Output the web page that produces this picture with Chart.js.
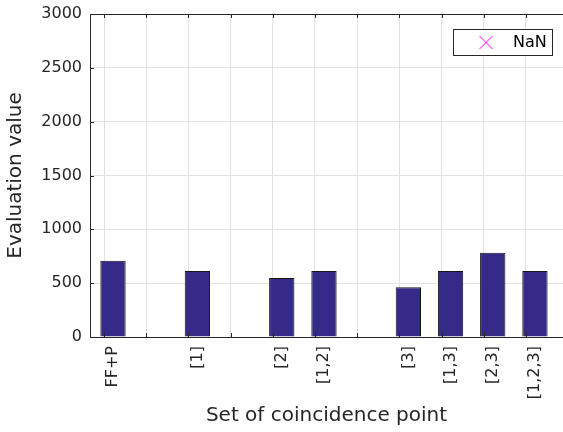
<!DOCTYPE html>
<html>
<head>
<meta charset="utf-8">
<title>Evaluation value</title>
<script src="https://cdn.jsdelivr.net/npm/chart.js@4.4.0/dist/chart.umd.min.js"></script>
<style>
  html, body { margin: 0; padding: 0; background: #fff; overflow: hidden; }
</style>
</head>
<body>
<canvas id="evalChart" width="563" height="432"></canvas>
<script>
// bars sit on slots along x, the gaps are left empty
const categories = ['FF+P', '[1]', '[2]', '[1,2]', '[3]', '[1,3]', '[2,3]', '[1,2,3]'];
const slots = [0, 2, 4, 5, 7, 8, 9, 10];
const evalValues = [708, 612, 548, 612, 461, 612, 782, 612];
const yTicks = [0, 500, 1000, 1500, 2000, 2500, 3000];
const gridSlots = [0, 1, 2, 3, 4, 5, 6, 7, 8, 9, 10];
const legendLabel = 'NaN';

const AXIS = '#262626';
const GRID = '#e2e2e2';
const X_MIN = -0.545, X_MAX = 10.665, GRID_SHIFT = -0.213;

Chart.defaults.font.family = '"DejaVu Sans", sans-serif';
Chart.defaults.color = AXIS;

// small inward tick marks like a boxed axes
const innerTicks = {
  id: 'innerTicks',
  afterDraw(chart) {
    const { ctx, chartArea: a, scales } = chart;
    ctx.save();
    ctx.strokeStyle = AXIS;
    ctx.lineWidth = 1;
    ctx.beginPath();
    scales.xTop.ticks.forEach(t => {
      const px = Math.round(scales.xTop.getPixelForValue(t.value)) + 0.5;
      ctx.moveTo(px, a.top); ctx.lineTo(px, a.top + 4);
      ctx.moveTo(px, a.bottom); ctx.lineTo(px, a.bottom - 4);
    });
    scales.y.ticks.forEach(t => {
      const py = Math.round(scales.y.getPixelForValue(t.value)) + 0.5;
      ctx.moveTo(a.left, py); ctx.lineTo(a.left + 4, py);
    });
    ctx.stroke();
    ctx.restore();
  }
};

// boxed legend in the upper right corner
const boxLegend = {
  id: 'boxLegend',
  afterDraw(chart) {
    const ds = chart.data.datasets[1];
    const { ctx, chartArea: a } = chart;
    const w = 99, h = 26;
    const x0 = Math.round(a.right - 11 - w), y0 = Math.round(a.top + 15);
    ctx.save();
    ctx.fillStyle = '#fff';
    ctx.fillRect(x0, y0, w, h);
    ctx.strokeStyle = AXIS;
    ctx.lineWidth = 1;
    ctx.strokeRect(x0 + 0.5, y0 + 0.5, w, h);
    const mx = x0 + 33, my = y0 + h / 2 + 0.5, r = 6.5;
    ctx.strokeStyle = ds.borderColor;
    ctx.beginPath();
    ctx.moveTo(mx - r, my - r); ctx.lineTo(mx + r, my + r);
    ctx.moveTo(mx - r, my + r); ctx.lineTo(mx + r, my - r);
    ctx.stroke();
    ctx.fillStyle = '#000';
    ctx.font = '16px "DejaVu Sans"';
    ctx.textAlign = 'left';
    ctx.textBaseline = 'middle';
    ctx.fillText(ds.label, x0 + 60, my);
    ctx.restore();
  }
};

new Chart(document.getElementById('evalChart'), {
  type: 'bar',
  data: {
    datasets: [
      {
        label: '',
        data: slots.map((s, i) => ({ x: s, y: evalValues[i] })),
        backgroundColor: '#352a87',
        borderColor: '#141414',
        borderWidth: 1,
        barPercentage: 0.6,
        categoryPercentage: 1,
        xAxisID: 'x',
        yAxisID: 'y'
      },
      {
        type: 'line',
        label: legendLabel,
        data: [],
        borderColor: '#ff00ff',
        pointStyle: 'crossRot',
        showLine: false,
        xAxisID: 'x',
        yAxisID: 'y'
      }
    ]
  },
  options: {
    responsive: false,
    animation: false,
    devicePixelRatio: 1,
    layout: { padding: 0 },
    plugins: { legend: { display: false }, tooltip: { enabled: false } },
    scales: {
      x: {
        type: 'linear',
        position: 'bottom',
        min: X_MIN,
        max: X_MAX,
        offset: false,
        afterBuildTicks: s => { s.ticks = slots.map(v => ({ value: v })); },
        afterFit: s => { s.height = 95; s.paddingLeft = 0; s.paddingRight = 0; },
        grid: { display: false, drawTicks: false, offset: false },
        border: { display: true, color: AXIS, width: 1 },
        ticks: {
          autoSkip: false,
          minRotation: 90,
          maxRotation: 90,
          padding: 9,
          color: AXIS,
          font: { size: 16 },
          callback: v => categories[slots.indexOf(v)]
        },
        title: {
          display: true,
          text: 'Set of coincidence point',
          color: AXIS,
          font: { size: 20 },
          padding: { top: 0, bottom: 4 }
        }
      },
      xTop: {
        type: 'linear',
        position: 'top',
        min: X_MIN,
        max: X_MAX,
        offset: false,
        afterBuildTicks: s => { s.ticks = gridSlots.map(v => ({ value: v + GRID_SHIFT })); },
        afterFit: s => { s.height = 14; s.paddingLeft = 0; s.paddingRight = 0; },
        grid: { color: GRID, drawTicks: false, offset: false },
        border: { display: true, color: AXIS, width: 1 },
        ticks: { display: false }
      },
      y: {
        min: 0,
        max: 3000,
        afterBuildTicks: s => { s.ticks = yTicks.map(v => ({ value: v })); },
        afterFit: s => { s.width = 90; s.paddingTop = 0; s.paddingBottom = 0; },
        grid: {
          drawTicks: false,
          color: c => (c.tick && (c.tick.value === 0 || c.tick.value === 3000)) ? 'rgba(0,0,0,0)' : GRID
        },
        border: { display: true, color: AXIS, width: 1 },
        ticks: { padding: 8, color: AXIS, font: { size: 16 }, callback: v => String(v) },
        title: {
          display: true,
          text: 'Evaluation value',
          color: AXIS,
          font: { size: 20 },
          padding: { top: 4, bottom: 0 }
        }
      }
    }
  },
  plugins: [innerTicks, boxLegend]
});
</script>
</body>
</html>
